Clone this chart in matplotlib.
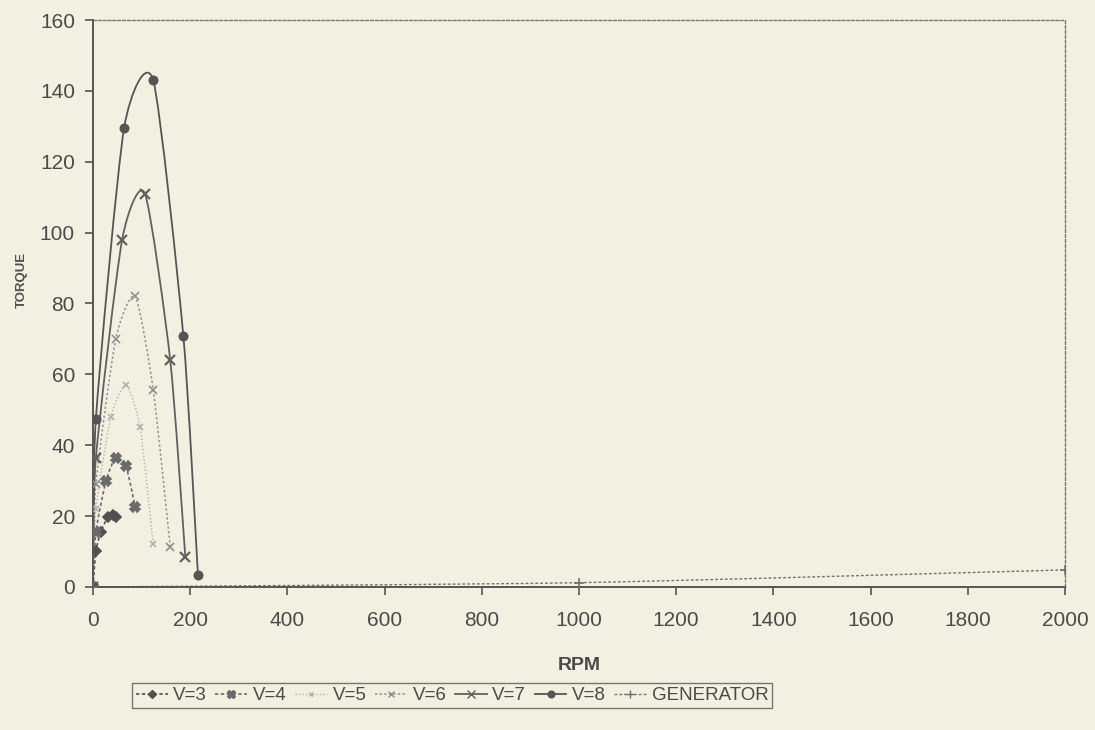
import numpy as np
import matplotlib
matplotlib.use('Agg')
import matplotlib.pyplot as plt
from matplotlib.path import Path
from matplotlib.patches import PathPatch
from matplotlib.lines import Line2D

plt.rcParams['font.family'] = ['Liberation Sans', 'DejaVu Sans']

# values
rpm_v3 = [0, 6, 16, 31, 41, 47]
tq_v3 = [0, 10, 15.5, 19.8, 20.3, 19.8]
rpm_v4 = [0, 6, 27, 47, 68, 87]
tq_v4 = [0, 15.5, 30, 36.4, 34, 22.6]
rpm_v5 = [0, 6, 37, 68, 97, 124]
tq_v5 = [0, 22, 48, 57, 45, 12]
rpm_v6 = [0, 6, 47, 87, 124, 159]
tq_v6 = [0, 29, 70, 82, 55.6, 11.3]
rpm_v7 = [0, 6, 60, 107, 159, 190]
tq_v7 = [0, 36.4, 98, 111, 64, 8.5]
rpm_v8 = [0, 6, 64, 124, 186, 216]
tq_v8 = [0, 47.4, 129.5, 143, 70.8, 3.4]
rpm_gen = [0, 1000, 2000]
tq_gen = [0, 1.2, 4.8]

labels = ['V=3', 'V=4', 'V=5', 'V=6', 'V=7', 'V=8', 'GENERATOR']
xticks = [0, 200, 400, 600, 800, 1000, 1200, 1400, 1600, 1800, 2000]
yticks = [0, 20, 40, 60, 80, 100, 120, 140, 160]


def smooth_path(x, y, k=9.0):
    # smoothed line like the spreadsheet: Catmull-Rom style cubic beziers
    pts = np.column_stack([x, y]).astype(float)
    verts = [pts[0]]
    codes = [Path.MOVETO]
    n = len(pts)
    for i in range(n - 1):
        p0 = pts[max(i - 1, 0)]
        p1 = pts[i]
        p2 = pts[i + 1]
        p3 = pts[min(i + 2, n - 1)]
        c1 = p1 + (p2 - p0) / k
        c2 = p2 - (p3 - p1) / k
        verts += [c1, c2, p2]
        codes += [Path.CURVE4] * 3
    return Path(verts, codes)


bg = '#f3f0e2'
ink = '#555555'

fig = plt.figure(figsize=(10.95, 7.3), dpi=100, facecolor=bg)
ax = fig.add_axes([0.0849, 0.196, 0.8877, 0.7766], facecolor=bg)

series = [
    (rpm_v3, tq_v3, dict(ls=(0, (2, 1.5)), marker='D', ms=5, color='#505050', lw=1.2)),
    (rpm_v4, tq_v4, dict(ls=(0, (2, 1.5)), marker='X', ms=7, color='#6a6a6a', lw=1.2)),
    (rpm_v5, tq_v5, dict(ls=(0, (1, 1.5)), marker='x', ms=4, color='#b0b0b0', lw=1.0)),
    (rpm_v6, tq_v6, dict(ls=(0, (1.5, 1.5)), marker='x', ms=6, color='#909090', lw=1.1)),
    (rpm_v7, tq_v7, dict(ls='-', marker='x', ms=7, color='#606060', lw=1.3, mew=1.6)),
    (rpm_v8, tq_v8, dict(ls='-', marker='o', ms=6, color='#555555', lw=1.3)),
    (rpm_gen, tq_gen, dict(ls=(0, (2, 1.5)), marker='+', ms=7, color='#707070', lw=1.0)),
]

handles = []
for (x, y, st), lab in zip(series, labels):
    patch = PathPatch(smooth_path(x, y), facecolor='none', edgecolor=st['color'],
                      lw=st['lw'], linestyle=st['ls'], zorder=2)
    ax.add_patch(patch)
    ax.plot(x, y, ls='none', marker=st['marker'], ms=st['ms'], color=st['color'],
            mew=st.get('mew', 1.2), zorder=3)
    handles.append(Line2D([], [], ls=st['ls'], lw=st['lw'], color=st['color'],
                          marker=st['marker'], ms=st['ms'] * 0.8, label=lab))

ax.set_xlim(0, 2000)
ax.set_ylim(0, 160)
ax.set_xticks(xticks)
ax.set_yticks(yticks)
ax.tick_params(axis='both', colors=ink, labelsize=15, length=6, width=1.2)
ax.tick_params(axis='x', direction='out', pad=11)
ax.tick_params(axis='y', direction='out', pad=7)
for t in ax.get_xticklabels() + ax.get_yticklabels():
    t.set_color('#4a4a4a')

for side in ['left', 'bottom']:
    ax.spines[side].set_color(ink)
    ax.spines[side].set_linewidth(1.4)
for side in ['top', 'right']:
    ax.spines[side].set_color('#777777')
    ax.spines[side].set_linewidth(1.0)
    ax.spines[side].set_linestyle((0, (2, 1.5)))

ax.set_xlabel('RPM', fontsize=14, fontweight='bold', color='#4a4a4a', labelpad=20)
fig.text(0.02, 0.616, 'TORQUE', rotation=90, fontsize=9.5, fontweight='bold',
         color='#505050', ha='center', va='center')

leg = fig.legend(handles=handles, loc='center', bbox_to_anchor=(0.413, 0.047),
                 ncol=7, fontsize=13.5, frameon=True, fancybox=False,
                 handlelength=1.7, handletextpad=0.3, columnspacing=0.45,
                 borderpad=0.2, edgecolor='#555555', facecolor=bg)
leg.get_frame().set_linewidth(1.0)
for t in leg.get_texts():
    t.set_color('#4a4a4a')

fig.savefig('out.png', dpi=100, facecolor=bg)
